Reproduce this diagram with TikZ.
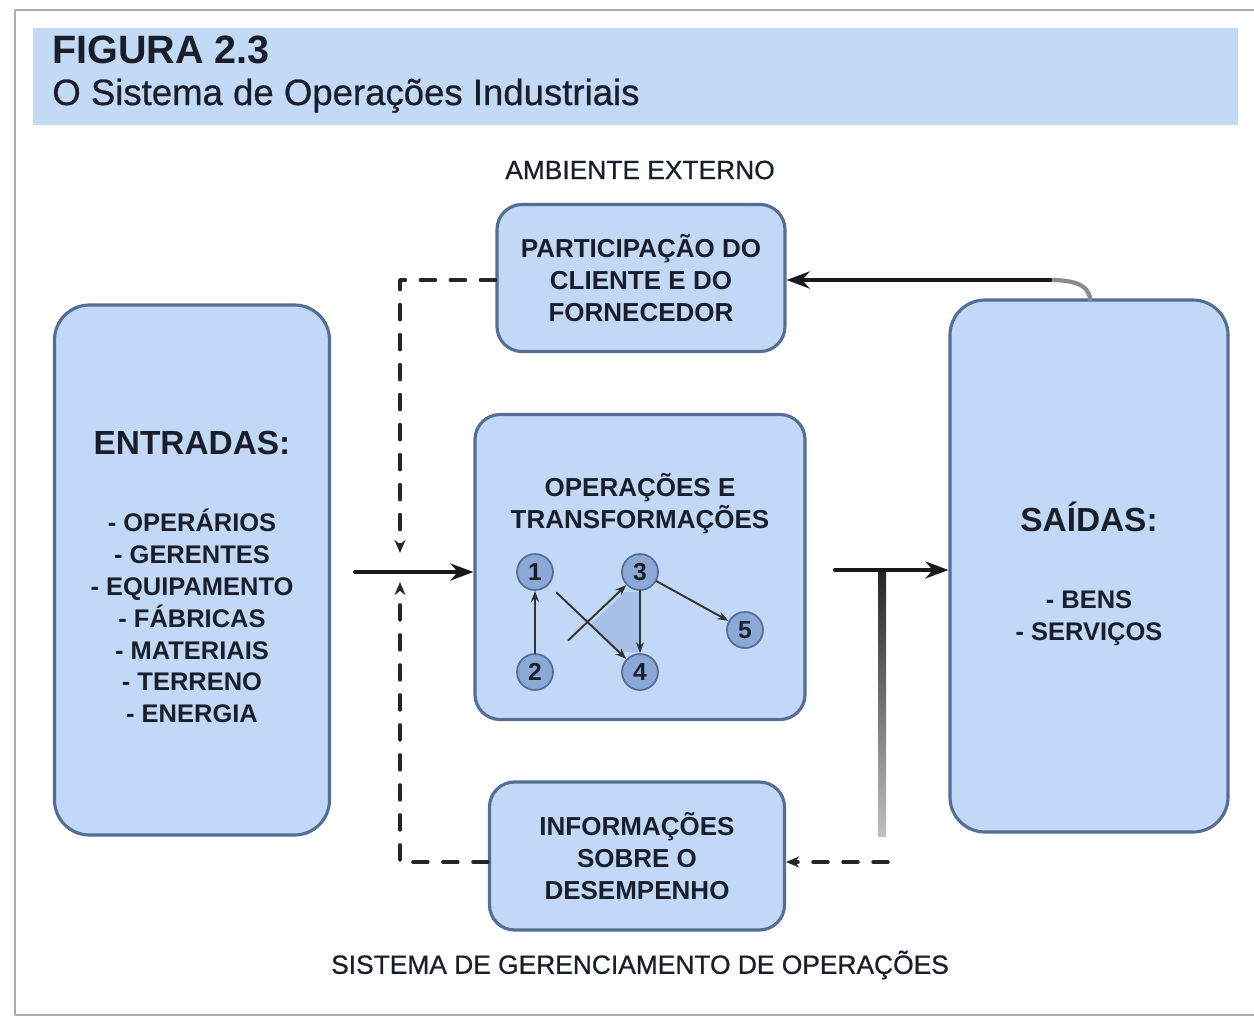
\documentclass[tikz,border=0pt]{standalone}
\usepackage{fontspec}
\setmainfont{Liberation Sans}
\newfontfamily\medfont[FakeBold=0.7]{Liberation Sans}
\usetikzlibrary{arrows.meta}
\definecolor{bandBlue}{RGB}{195,218,247}
\definecolor{boxBlue}{RGB}{193,217,246}
\definecolor{edgeBlue}{RGB}{84,110,150}
\definecolor{dotBlue}{RGB}{140,168,214}
\definecolor{shadeBlue}{RGB}{168,192,232}
\definecolor{inkDark}{RGB}{26,30,42}
\definecolor{frameGray}{RGB}{170,172,185}

\begin{document}
\begin{tikzpicture}[x=0.2mm, y=-0.2mm, line join=round, line cap=round,
  panel/.style={draw=edgeBlue, line width=1.8pt, fill=boxBlue, rounded corners=5mm,
    inner sep=0pt, align=center, text=inkDark,
    font=\fontsize{14.8}{18.2}\selectfont\bfseries},
  sidepanel/.style={panel, rounded corners=7mm},
  boxtxt/.style={align=center, text=inkDark, inner sep=0pt,
    font=\fontsize{14.5}{18.2}\selectfont\bfseries},
  caption/.style={text=inkDark, inner sep=0pt, font=\medfont\fontsize{15}{18}\selectfont},
  dot/.style={circle, draw=edgeBlue, line width=1pt, fill=dotBlue, minimum size=7.2mm,
    inner sep=0pt, text=inkDark, font=\fontsize{14}{16}\selectfont\bfseries},
  flow/.style={line width=2.4pt, draw=black!90, -{Stealth[length=4.6mm, width=3.4mm]}},
  dfeed/.style={line width=2pt, draw=black!85, dash pattern=on 3mm off 3mm,
    -{Stealth[length=2.6mm, width=2.2mm]}},
  op/.style={line width=1.1pt, draw=black!80, -{Stealth[length=2.2mm, width=1.6mm]}}]
\useasboundingbox (0,0) rectangle (1254,1017);

% frame and heading
\draw[frameGray, line width=1pt] (1254,10) -- (15,10) -- (15,1015) -- (1254,1015);
\fill[bandBlue] (33,28) rectangle (1238,125);
\node[anchor=base west, inner sep=0pt, text=inkDark, font=\fontsize{22.5}{26}\selectfont\bfseries] (figNum) at (52,63) {FIGURA 2.3};
\node[anchor=base west, inner sep=0pt, text=inkDark, font=\medfont\fontsize{20.8}{24}\selectfont] (figTitle) at (52,105) {O Sistema de Operações Industriais};

% captions
\node[caption] (ambiente) at (640,170) {AMBIENTE EXTERNO};
\node[caption] (sistema) at (640,965) {SISTEMA DE GERENCIAMENTO DE OPERAÇÕES};

% boxes
\node[sidepanel, minimum width=55mm, minimum height=106mm] (entr) at (192,570) {};
\node[sidepanel, minimum width=55.6mm, minimum height=106.4mm] (said) at (1089,566) {};
\node[panel, minimum width=57.6mm, minimum height=29.4mm] (part) at (641,278) {PARTICIPAÇÃO DO\\CLIENTE E DO\\FORNECEDOR};
\node[panel, minimum width=66mm, minimum height=61mm] (oper) at (640,567) {};
\node[panel, minimum width=59mm, minimum height=29.6mm] (info) at (637,856) {INFORMAÇÕES\\SOBRE O\\DESEMPENHO};

\node[boxtxt] (entrTxt) at (192,577) {{\fontsize{19}{22}\selectfont ENTRADAS:}\\[25.6pt]
  - OPERÁRIOS\\- GERENTES\\- EQUIPAMENTO\\- FÁBRICAS\\- MATERIAIS\\- TERRENO\\- ENERGIA};
\node[boxtxt] (saidTxt) at (1089,574) {{\fontsize{19}{22}\selectfont SAÍDAS:}\\[25.6pt]
  - BENS\\- SERVIÇOS};
\node[boxtxt, font=\fontsize{14.8}{18.2}\selectfont\bfseries] (operTxt) at (640,504) {OPERAÇÕES E\\TRANSFORMAÇÕES};

% small process graph
\fill[shadeBlue] (590,625) -- (625,592) -- (640,592) -- (640,652) -- (617,652) -- cycle;
\node[dot] (n1) at (535,572) {1};
\node[dot] (n3) at (640,572) {3};
\node[dot] (n5) at (745,630) {5};
\node[dot] (n2) at (535,672) {2};
\node[dot] (n4) at (640,672) {4};
\draw[op] (n2) -- (n1);
\draw[op] (n3) -- (n4);
\draw[op] (n3) -- (n5);
\draw[op, shorten <=2.2mm] (n1) -- (n4);
\draw[op, shorten <=5.4mm] (n2) -- (n3);

% main flow
\coordinate (inA) at (355,572);
\coordinate (outA) at (835,570);
\draw[flow] (inA) -- (oper.west |- inA);
\draw[flow] (outA) -- (said.west |- outA);
\shade[top color=black!85, bottom color=black!25] (878,572) rectangle (886,836);

% feedback to the client box
\coordinate (sTop) at (1090,300);
\coordinate (bend) at (1050,280);
\draw[line width=2.4pt, black!45] (sTop) to[out=90, in=0] (bend);
\draw[flow] (bend) -- (part.east |- bend);

% performance information loop
\coordinate (fbR) at (888,862);
\coordinate (fbUp) at (400,582);
\coordinate (fbDn) at (400,553);
\draw[dfeed] (fbR) -- (info.east |- fbR);
\draw[dfeed] (info.west |- fbR) -| (fbUp);
\draw[dfeed] (part.west |- 0,280) -| (fbDn);
\end{tikzpicture}
\end{document}
